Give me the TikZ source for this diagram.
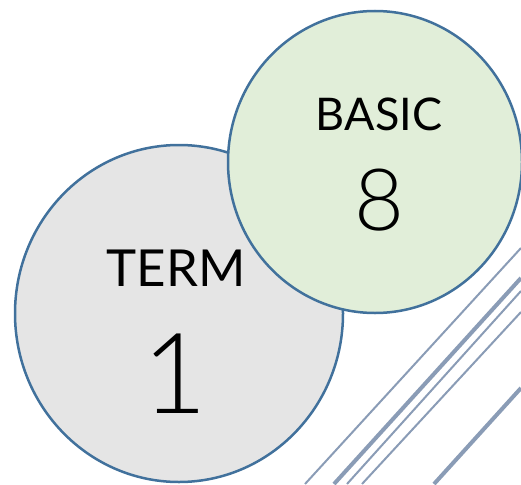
\documentclass[tikz,border=0pt]{standalone}
\usepackage{fontspec}
\setmainfont{Lato}
\newfontfamily\thinfont{Lato Light}

\definecolor{bordo}{HTML}{41719C}
\definecolor{cinza}{HTML}{E5E5E5}
\definecolor{verde}{HTML}{E1EED9}
\definecolor{risco}{HTML}{8A9CB6}

\tikzset{
  rotulo/.style={inner sep=0pt, anchor=base, text=black},
  fino/.style={risco, line width=2pt},
  grosso/.style={risco, line width=4pt}
}

\begin{document}
\begin{tikzpicture}[x=1pt,y=-1pt]
            \useasboundingbox (0,0) rectangle (521,484);

            % riscos diagonais
            \draw[fino] (521,248) -- (305,484);
            \draw[grosso] (521,278) -- (334,484);
            \draw[fino] (521,291) -- (347,484);
            \draw[fino] (521,312) -- (362,484);
            \draw[grosso] (521,388) -- (434,484);

            % circulos
            \filldraw[fill=cinza, draw=bordo, line width=2.5pt] (179,313.5) ellipse (164 and 168.5);
            \filldraw[fill=verde, draw=bordo, line width=2.5pt] (375,162) ellipse (147 and 151);

            \node[rotulo, font=\fontsize{45}{45}\selectfont] (basic) at (379,130) {BASIC};
            \node[rotulo, font=\thinfont\fontsize{86}{86}\selectfont] (oito) at (379,230) {8};
            \node[rotulo, font=\fontsize{51}{51}\selectfont] (term) at (176,286) {TERM};
            \node[rotulo, font=\thinfont\fontsize{112}{112}\selectfont] (um) at (175,413) {1};
        \end{tikzpicture}
\end{document}
